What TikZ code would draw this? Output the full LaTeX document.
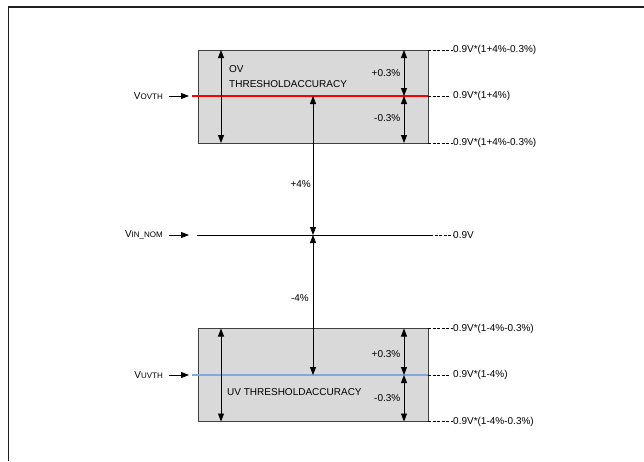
\documentclass[tikz,border=0pt]{standalone}
\usepackage{fontspec}
\setmainfont{Liberation Sans}
\usetikzlibrary{arrows.meta}
\definecolor{framec}{HTML}{1E1E1E}
\definecolor{boxgray}{HTML}{404040}
\definecolor{fillgray}{HTML}{D9D9D9}
\definecolor{ovred}{HTML}{FF0000}
\definecolor{uvblue}{HTML}{7FA8DC}
\newcommand\lsub[1]{\raisebox{-0.6pt}{\fontsize{8}{9}\selectfont #1}}
\begin{document}
\begin{tikzpicture}[x=1pt,y=-1pt,
  lbl/.style={inner sep=0pt, font=\fontsize{10}{15}\selectfont},
  tip/.style={-{Triangle[length=8pt,width=6pt]}, line width=0.8pt},
  dbl/.style={{Triangle[length=8pt,width=6pt]}-{Triangle[length=8pt,width=6pt]}, line width=0.8pt},
  band/.style={draw=boxgray, fill=fillgray, line width=1pt, inner sep=0pt, outer sep=0pt, minimum width=230pt, minimum height=93pt},
  tick/.style={dash pattern=on 3pt off 1.5pt, line width=0.6pt},
  level/.style={line width=1.2pt}]
\useasboundingbox (0,0) rectangle (644,461);
\draw[line width=1.5pt, framec] (8.5,461) -- (8.5,7) -- (644,7);

% boxes
\node[band, anchor=north west] (ovbox) at (198,50) {};
\node[band, anchor=north west] (uvbox) at (198,328.5) {};

% key coordinates
\coordinate (ovL) at (192,96);
\coordinate (ovR) at (428,96);
\coordinate (nomL) at (197,235);
\coordinate (nomR) at (430,235);
\coordinate (uvL) at (192,375);
\coordinate (uvR) at (428,375);
\coordinate (ovM) at (313,96);
\coordinate (nomM) at (313,235);
\coordinate (uvM) at (313,375);
\coordinate (ovAT) at (221,50);
\coordinate (ovAB) at (221,143);
\coordinate (uvAT) at (221,328.5);
\coordinate (uvAB) at (221,421.5);
\coordinate (ovRT) at (404,50);
\coordinate (ovRM) at (404,96);
\coordinate (ovRB) at (404,143);
\coordinate (uvRT) at (404,328.5);
\coordinate (uvRM) at (404,375);
\coordinate (uvRB) at (404,421.5);
\coordinate (ovin) at (189,96);
\coordinate (nomin) at (189,235);
\coordinate (uvin) at (189,375);

% level lines
\draw[level, ovred] (ovL) -- (ovR);
\draw[level, uvblue] (uvL) -- (uvR);
\draw[line width=0.9pt] (nomL) -- (nomR);

% arrows inside boxes
\draw[dbl] (ovAT) -- (ovAB);
\draw[dbl] (uvAT) -- (uvAB);
\draw[dbl] (ovRT) -- (ovRM);
\draw[dbl] (ovRM) -- (ovRB);
\draw[dbl] (uvRT) -- (uvRM);
\draw[dbl] (uvRM) -- (uvRB);
% central arrows
\draw[dbl] (ovM) -- (nomM);
\draw[dbl] (nomM) -- (uvM);

% box texts
\node[lbl, anchor=west, align=left] (ovtxt) at (229,76.5) {OV\\THRESHOLDACCURACY};
\node[lbl, anchor=west] (uvtxt) at (227,392) {UV THRESHOLDACCURACY};
\node[lbl, anchor=east] (ovp) at (400.5,73) {+0.3\%};
\node[lbl, anchor=east] (ovn) at (400.5,118) {-0.3\%};
\node[lbl, anchor=east] (uvp) at (400.5,354) {+0.3\%};
\node[lbl, anchor=east] (uvn) at (400.5,398) {-0.3\%};
\node[lbl, anchor=east] (p4) at (311,184) {+4\%};
\node[lbl, anchor=east] (m4) at (309,298) {-4\%};

% right labels
\node[lbl, anchor=west] (r1) at (453,50) {0.9V*(1+4\%-0.3\%)};
\node[lbl, anchor=west] (r2) at (453,96) {0.9V*(1+4\%)};
\node[lbl, anchor=west] (r3) at (453,143) {0.9V*(1+4\%-0.3\%)};
\node[lbl, anchor=west] (r4) at (453,235) {0.9V};
\node[lbl, anchor=west] (r5) at (453,328.5) {0.9V*(1-4\%-0.3\%)};
\node[lbl, anchor=west] (r6) at (453,375) {0.9V*(1-4\%)};
\node[lbl, anchor=west] (r7) at (453,421.5) {0.9V*(1-4\%-0.3\%)};

\draw[tick] (ovbox.north east) -- (r1.west);
\draw[tick] (ovR) -- ([xshift=-4pt]r2.west);
\draw[tick] (ovbox.south east) -- (r3.west);
\draw[tick] (nomR) -- (r4.west);
\draw[tick] (uvbox.north east) -- (r5.west);
\draw[tick] (uvR) -- ([xshift=-4pt]r6.west);
\draw[tick] (uvbox.south east) -- (r7.west);

% left labels
\node[lbl, anchor=east] (lov) at (163,96) {V\lsub{OVTH}};
\node[lbl, anchor=east] (lnom) at (163,235) {V\lsub{IN\_NOM}};
\node[lbl, anchor=east] (luv) at (163,375) {V\lsub{UVTH}};
\draw[tip, shorten <=6pt] (lov.east) -- (ovin);
\draw[tip, shorten <=6pt] (lnom.east) -- (nomin);
\draw[tip, shorten <=6pt] (luv.east) -- (uvin);
\end{tikzpicture}
\end{document}
